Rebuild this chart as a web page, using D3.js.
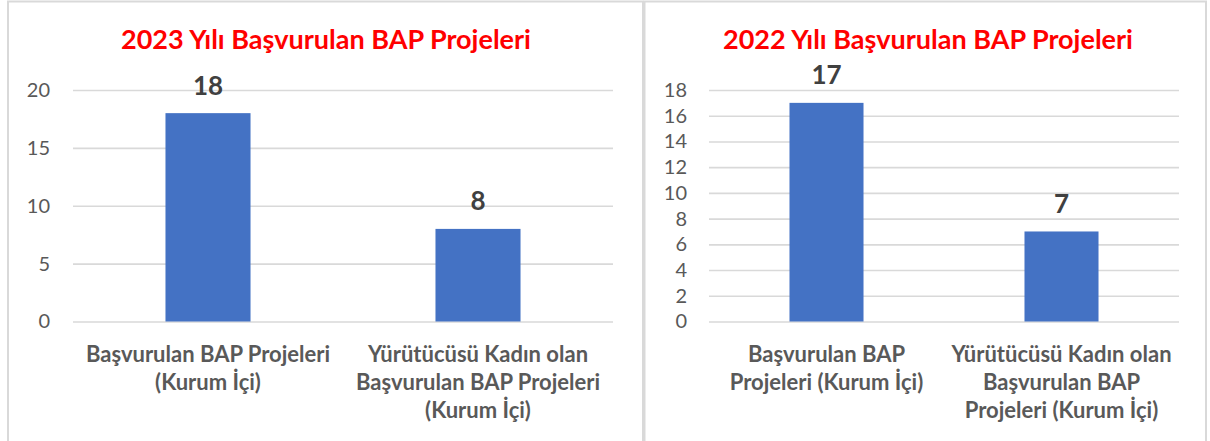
<!DOCTYPE html>
<html>
<head>
<meta charset="utf-8">
<script src="https://cdn.jsdelivr.net/npm/d3@7"></script>
<style>
  html, body { margin: 0; padding: 0; background: #fff; }
  svg { display: block; font-family: Lato, "Open Sans", sans-serif; }
</style>
</head>
<body>
<div id="chart"></div>
<script>
// veriler
const categories2023 = ["Başvurulan BAP Projeleri (Kurum İçi)", "Yürütücüsü Kadın olan Başvurulan BAP Projeleri (Kurum İçi)"];
const values2023 = [18, 8];
const ticks2023 = [0, 5, 10, 15, 20];

const categories2022 = ["Başvurulan BAP Projeleri (Kurum İçi)", "Yürütücüsü Kadın olan Başvurulan BAP Projeleri (Kurum İçi)"];
const values2022 = [17, 7];
const ticks2022 = [0, 2, 4, 6, 8, 10, 12, 14, 16, 18];

const titles = ["2023 Yılı Başvurulan BAP Projeleri", "2022 Yılı Başvurulan BAP Projeleri"];

const width = 1210;
const height = 441;
const barColor = "#4472C4";
const gridColor = "#d9d9d9";

const svg = d3.select("#chart")
    .append("svg")
    .attr("width", width)
    .attr("height", height);

// panel çerçeveleri
svg.append("rect")
    .attr("x", 8).attr("y", 1.5)
    .attr("width", 635).attr("height", height + 10)
    .attr("fill", "none").attr("stroke", gridColor).attr("stroke-width", 2);
svg.append("rect")
    .attr("x", 644.5).attr("y", 1.5)
    .attr("width", 561.5).attr("height", height + 10)
    .attr("fill", "none").attr("stroke", gridColor).attr("stroke-width", 2);

function wrap(text, maxWidth) {
    text.each(function () {
        const t = d3.select(this);
        const words = t.text().split(/\s+/);
        const x = t.attr("x");
        t.text(null);
        let line = [];
        let tspan = t.append("tspan").attr("x", x).attr("dy", 0);
        for (const w of words) {
            line.push(w);
            tspan.text(line.join(" "));
            if (tspan.node().getComputedTextLength() > maxWidth && line.length > 1) {
                line.pop();
                tspan.text(line.join(" "));
                line = [w];
                tspan = t.append("tspan").attr("x", x).attr("dy", 28).text(w);
            }
        }
    });
}

function plot(cfg) {
    const { cats, vals, ticks, title, left, right, labelRight, titleX, max } = cfg;
    const top = 90, bottom = 321.5;

    const x = d3.scaleBand()
        .domain(cats)
        .range([left, right])
        .padding(0);

    const y = d3.scaleLinear()
        .domain([0, max])
        .range([bottom, top]);

    const g = svg.append("g");

    // başlık
    g.append("text")
        .attr("x", titleX)
        .attr("y", 49)
        .attr("text-anchor", "middle")
        .attr("fill", "#FF0000")
        .attr("font-weight", "bold")
        .attr("font-size", 27)
        .text(title);

    // ızgara + eksen
    g.append("g")
        .attr("transform", `translate(${left},0)`)
        .call(d3.axisLeft(y).tickValues(ticks).tickSize(-(right - left)).tickPadding(left - labelRight))
        .call(g => g.select(".domain").remove())
        .call(g => g.selectAll(".tick line").attr("stroke", gridColor).attr("stroke-width", 1.6))
        .call(g => g.selectAll(".tick text")
            .attr("fill", "#595959")
            .attr("font-size", 20)
            .attr("font-family", "Lato, sans-serif"));

    const bw = x.bandwidth() * 0.315;

    g.append("g")
        .selectAll("rect")
        .data(vals)
        .join("rect")
        .attr("x", (d, i) => x(cats[i]) + (x.bandwidth() - bw) / 2)
        .attr("y", d => y(d))
        .attr("width", bw)
        .attr("height", d => y(0) - y(d))
        .attr("fill", barColor);

    // değer etiketleri
    g.append("g")
        .selectAll("text")
        .data(vals)
        .join("text")
        .attr("x", (d, i) => x(cats[i]) + x.bandwidth() / 2)
        .attr("y", d => y(d) - 18.5)
        .attr("text-anchor", "middle")
        .attr("fill", "#404040")
        .attr("font-weight", "bold")
        .attr("font-size", 26)
        .text(d => d);

    // kategori etiketleri
    g.append("g")
        .selectAll("text")
        .data(cats)
        .join("text")
        .attr("x", d => x(d) + x.bandwidth() / 2)
        .attr("y", 362)
        .attr("text-anchor", "middle")
        .attr("fill", "#595959")
        .attr("font-weight", "bold")
        .attr("font-size", 22)
        .text(d => d)
        .call(wrap, x.bandwidth() - 12);
}

plot({ cats: categories2023, vals: values2023, ticks: ticks2023, title: titles[0],
       left: 73, right: 613, labelRight: 50, titleX: 326, max: 20 });
plot({ cats: categories2022, vals: values2022, ticks: ticks2022, title: titles[1],
       left: 709, right: 1179, labelRight: 687, titleX: 928, max: 18 });
</script>
</body>
</html>
